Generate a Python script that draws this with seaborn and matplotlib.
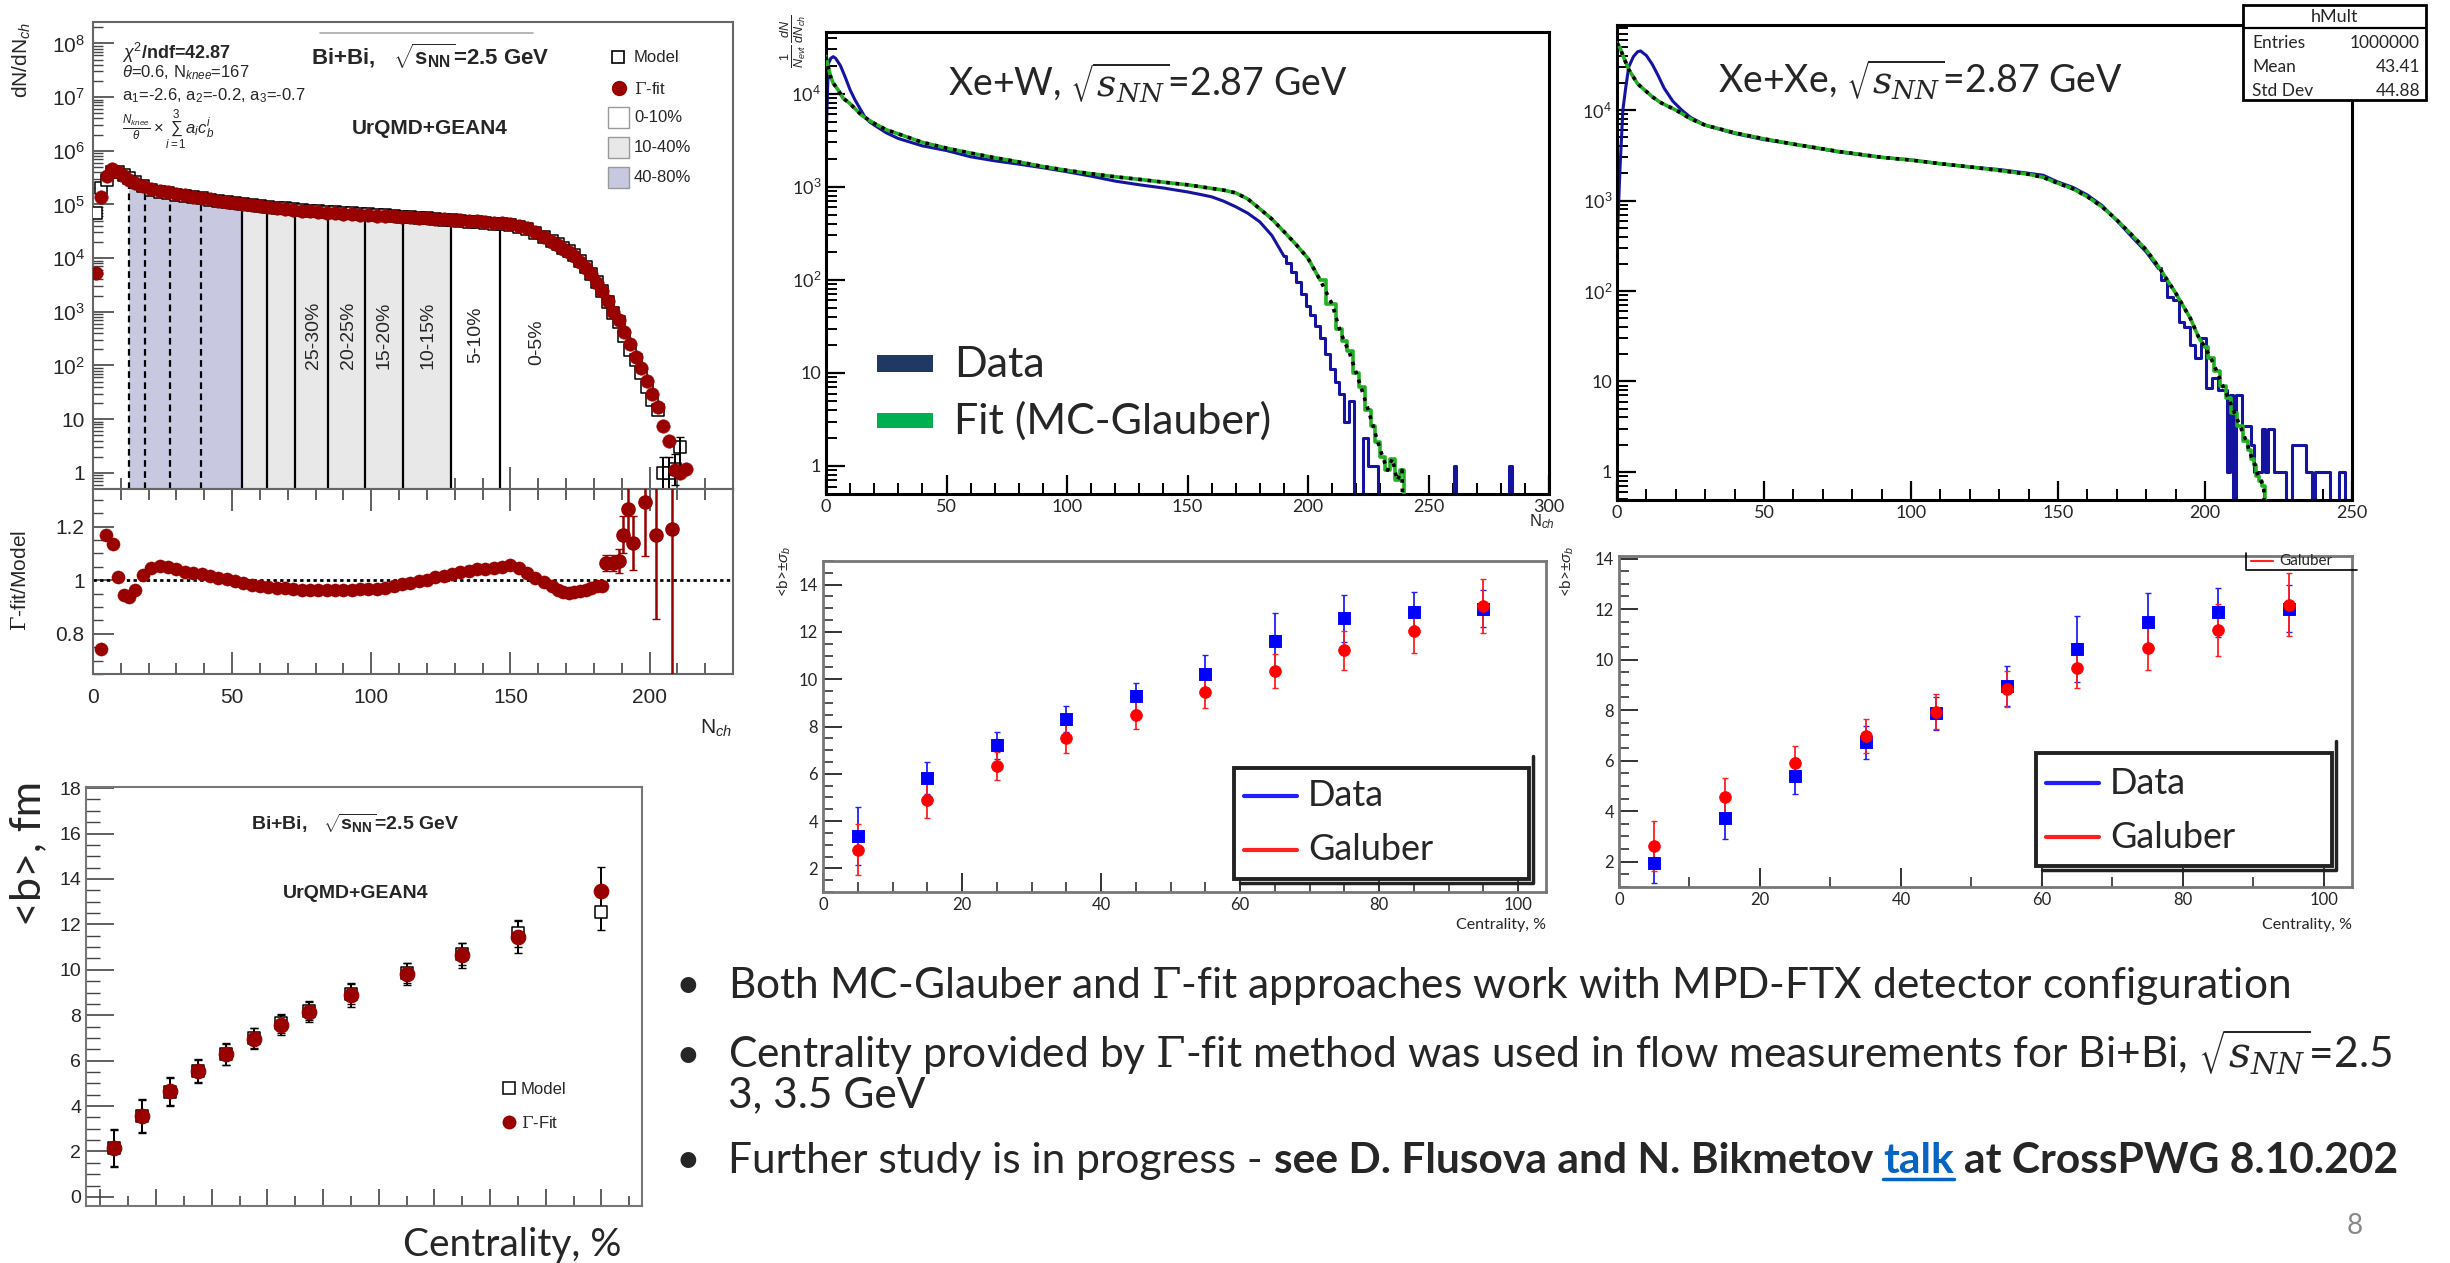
import numpy as np
import pandas as pd
import matplotlib
matplotlib.use("Agg")
import matplotlib.pyplot as plt
import seaborn as sns
from matplotlib import font_manager as fm
from matplotlib.patches import Rectangle
from matplotlib.lines import Line2D
from matplotlib.ticker import (FixedLocator, FixedFormatter, MultipleLocator,
                               NullFormatter, LogLocator)

# ====================== DATA ======================
# --- Panel A: Bi+Bi dN/dNch, Gamma-fit vs model ---
nch_fit = [1, 3, 5, 7, 9, 11, 13, 15,
           18, 21, 24, 27, 30, 33, 36, 39, 42, 45, 48, 51, 54, 57, 60, 63, 66,
           69, 72, 75, 78, 81, 84, 87, 90, 93, 96, 99, 102, 105, 108, 111, 114,
           117, 120, 123, 126, 129, 132, 135, 138, 141, 144, 147, 150, 153, 156,
           159, 162, 165,
           167, 169, 171, 173, 175, 177, 179, 181, 183, 185, 187, 189, 191, 193,
           195, 197, 199, 201, 203, 205, 207, 209, 211, 213]
dn_fit = [5.3e3, 1.36e5, 3.4e5, 4.5e5, 4.1e5, 3.4e5, 2.9e5, 2.5e5,
          2.2e5, 1.95e5, 1.8e5, 1.68e5, 1.57e5, 1.48e5, 1.4e5, 1.32e5, 1.25e5,
          1.18e5, 1.11e5, 1.05e5, 1.01e5, 9.7e4, 9.3e4, 8.9e4, 8.5e4, 8.2e4,
          7.9e4, 7.6e4, 7.4e4, 7.2e4, 7.0e4, 6.85e4, 6.7e4, 6.55e4, 6.45e4,
          6.35e4, 6.2e4, 6.1e4, 6.0e4, 5.85e4, 5.75e4, 5.6e4, 5.5e4, 5.4e4,
          5.25e4, 5.15e4, 5.05e4, 4.95e4, 4.85e4, 4.75e4, 4.6e4, 4.45e4, 4.3e4,
          4.0e4, 3.6e4, 3.0e4, 2.5e4, 2.0e4,
          1.75e4, 1.5e4, 1.3e4, 1.1e4, 8.6e3, 6.6e3, 5.0e3, 3.5e3, 2.4e3, 1.6e3,
          1.0e3, 690, 420, 250, 145, 88, 52, 30, 17, 7.5, 4.0, 1.15, 1.0, 1.2]
dn_model = [7e4, 2.0e5, 2.9e5, 3.96e5, 4.05e5, 3.6e5, 3.1e5, 2.59e5,
            2.16e5, 1.87e5, 1.71e5, 1.6e5, 1.51e5, 1.43e5, 1.36e5, 1.29e5,
            1.23e5, 1.17e5, 1.107e5, 1.05e5, 1.02e5, 9.87e4, 9.5e4, 9.13e4,
            8.74e4, 8.46e4, 8.17e4, 7.88e4, 7.68e4, 7.48e4, 7.27e4, 7.11e4,
            6.95e4, 6.79e4, 6.68e4, 6.57e4, 6.4e4, 6.28e4, 6.13e4, 5.94e4,
            5.81e4, 5.62e4, 5.49e4, 5.35e4, 5.16e4, 5.03e4, 4.9e4, 4.78e4,
            4.66e4, 4.55e4, 4.4e4, 4.24e4, 4.08e4, 3.83e4, 3.51e4, 2.98e4,
            2.51e4, 2.04e4,
            1.82e4, 1.57e4, 1.37e4, 1.15e4, 8.96e3, 6.85e3, 5.15e3, 3.58e3,
            2.46e3, 1.5e3, 940, 644, 359, 198, 127, 73, 40, 23, 14.6, 1.0, 1.0,
            1.2, 3.0, np.nan]
model_err_nch = [205, 207, 209, 211]
model_err_lo = [0.5, 0.5, 0.6, 1.8]
model_err_hi = [1.0, 1.0, 1.0, 1.6]
cut_dashed = [12.8, 18.8, 27.8, 38.7]
cut_solid = [53.4, 62.6, 72.5, 84.6, 97.6, 111.4, 128.5, 146.2]
band_4080 = [12.8, 53.4]
band_1040 = [53.4, 128.5]
class_labels = ["25-30%", "20-25%", "15-20%", "10-15%", "5-10%", "0-5%"]
class_label_nch = [79.4, 91.8, 104.4, 120.3, 137.7, 159.6]
logA_ticks = [1, 10, 1e2, 1e3, 1e4, 1e5, 1e6, 1e7, 1e8]
logA_labels = ["1", "10", "10$^{2}$", "10$^{3}$", "10$^{4}$", "10$^{5}$",
               "10$^{6}$", "10$^{7}$", "10$^{8}$"]

# ratio panel
nch_ratio = [2.9, 4.8, 7.2, 8.9, 11, 13, 15,
             18, 21, 24, 27, 30, 33, 36, 39, 42, 45, 48, 51, 54, 57, 60, 63, 66,
             69, 72, 75, 78, 81, 84, 87, 90, 93, 96, 99, 102, 105, 108, 111, 114,
             117, 120, 123, 126, 129, 132, 135, 138, 141, 144, 147, 150, 153,
             156, 159, 162, 165,
             167, 169, 171, 173, 175, 177, 179, 181, 183]
ratio = [0.743, 1.169, 1.136, 1.012, 0.944, 0.936, 0.965,
         1.02, 1.045, 1.052, 1.05, 1.04, 1.032, 1.027, 1.022, 1.015, 1.008,
         1.003, 0.998, 0.99, 0.983, 0.978, 0.975, 0.972, 0.969, 0.967, 0.965,
         0.963, 0.963, 0.963, 0.963, 0.964, 0.965, 0.966, 0.967, 0.968, 0.972,
         0.978, 0.985, 0.99, 0.997, 1.002, 1.01, 1.017, 1.023, 1.03, 1.035,
         1.04, 1.043, 1.046, 1.05, 1.055, 1.045, 1.025, 1.008, 0.995, 0.978,
         0.963, 0.955, 0.951, 0.956, 0.96, 0.963, 0.97, 0.977, 0.977]
nch_ratio_tail = [184.3, 186.9, 188.9, 190.3, 192.3, 194.2, 198.3, 202.4, 208.2]
ratio_tail = [1.064, 1.064, 1.072, 1.17, 1.265, 1.138, 1.29, 1.167, 1.19]
ratio_tail_err = [0.03, 0.03, 0.045, 0.07, 0.12, 0.1, 0.2, 0.31, 0.6]

# --- Panel B: Xe+W multiplicity ---
xew_nch_data = [0, 1, 2, 3, 4, 6, 8, 10, 12, 14, 16, 18, 20, 25, 30, 40, 50, 60,
                70, 80, 90, 100, 110, 120, 130, 140, 150, 155, 160, 165, 170,
                175, 180, 185, 190, 192, 194, 196, 198, 200, 202, 204, 206, 208,
                210, 212, 214, 216, 218, 220, 222, 224, 226, 228, 230, 260, 261,
                262, 283, 284, 285]
xew_data = [3.2e3, 2.1e4, 2.4e4, 2.5e4, 2.4e4, 2.0e4, 1.5e4, 1.1e4, 8.6e3,
            7.0e3, 5.7e3, 5.0e3, 4.6e3, 3.8e3, 3.3e3, 2.75e3, 2.45e3, 2.1e3,
            1.9e3, 1.75e3, 1.6e3, 1.45e3, 1.3e3, 1.15e3, 1.05e3, 970, 880, 830,
            780, 700, 610, 520, 420, 300, 180, 150, 120, 95, 70, 52, 42, 32, 24,
            16, 11, 8, 6, 3, 5, 0, 0, 2, 1, 1, 0, 0, 1, 0, 0, 1, 0]
xew_nch_fit = [0, 1, 2, 3, 5, 7, 10, 15, 20, 25, 30, 40, 50, 60, 70, 80, 90,
               100, 110, 120, 130, 140, 150, 160, 165, 170, 175, 180, 185, 190,
               195, 200, 205, 210, 213, 215, 217, 220, 222, 225, 227, 229, 231,
               233, 235, 237, 239, 241]
xew_fit = [2.5e4, 1.9e4, 1.5e4, 1.3e4, 1.1e4, 9e3, 7.8e3, 5.8e3, 4.8e3, 4.1e3,
           3.7e3, 3.0e3, 2.6e3, 2.3e3, 2.05e3, 1.85e3, 1.65e3, 1.5e3, 1.38e3,
           1.28e3, 1.2e3, 1.12e3, 1.05e3, 960, 920, 860, 740, 580, 450, 330,
           240, 170, 100, 55, 30, 22, 17, 10, 7, 4, 2.7, 1.8, 1.25, 0.9, 1.2,
           0.7, 0.9, 0]

# --- Panel C: Xe+Xe multiplicity ---
xexe_nch_data = [0, 1, 2, 3, 4, 5.6, 7, 8, 10, 12, 14, 16, 19, 22, 25, 30, 40,
                 50, 60, 75, 90, 100, 110, 120, 130, 140, 145, 150, 155, 160,
                 165, 170, 175, 180, 184, 186, 188, 190, 192, 194, 196, 197, 198,
                 199, 200, 201, 202, 203, 204, 205, 206, 207, 208, 209, 210, 211,
                 212, 213, 214, 215, 216, 217, 218, 219, 220, 221, 222, 223, 224,
                 225, 226, 227, 228, 229, 230, 231, 232, 233, 234, 235, 236, 237,
                 238, 239, 240, 241, 242, 243, 244, 245, 246, 247, 248]
xexe_data = [300, 2.2e3, 1e4, 1.8e4, 3e4, 3.9e4, 4.4e4, 4.5e4, 4e4, 3.2e4,
             2.4e4, 1.75e4, 1.25e4, 1e4, 8.3e3, 6.8e3, 5.5e3, 4.7e3, 4.2e3,
             3.45e3, 3.0e3, 2.8e3, 2.55e3, 2.35e3, 2.2e3, 2.0e3, 1.9e3, 1.6e3,
             1.4e3, 1.15e3, 880, 600, 400, 270, 180, 132, 85, 80, 45, 40, 25, 18,
             18, 30, 30, 8.5, 8.5, 11, 11, 8, 8, 8, 1, 7, 0, 7, 7, 3.2, 3.2, 3.2,
             2, 1, 1, 1, 3, 1, 3, 3, 1, 1, 1, 1, 0, 0, 2, 2, 2, 2, 2, 1, 1, 0, 1,
             1, 1, 1, 1, 0, 0, 0, 1, 1, 0]
xexe_nch_fit = [0, 1, 2, 4, 7, 10, 12, 15, 20, 25, 30, 40, 50, 60, 75, 90, 100,
                110, 120, 130, 140, 145, 150, 155, 160, 165, 170, 175, 180, 185,
                190, 195, 198, 200, 202, 204, 206, 208, 210, 212, 214, 215, 216,
                217, 218, 219, 220, 221]
xexe_fit = [5.5e4, 4.9e4, 4e4, 2.8e4, 1.95e4, 1.6e4, 1.4e4, 1.2e4, 1.0e4, 8e3,
            6.8e3, 5.6e3, 4.8e3, 4.2e3, 3.5e3, 3.0e3, 2.8e3, 2.55e3, 2.35e3,
            2.15e3, 1.95e3, 1.8e3, 1.55e3, 1.35e3, 1.1e3, 850, 610, 420, 285,
            170, 95, 50, 30, 24, 18, 13, 9, 6.5, 4.5, 3.2, 2.2, 1.75, 1.4, 1.2,
            0.9, 0.8, 0.7, 0]
logBC_ticks = [1, 10, 1e2, 1e3, 1e4]
logBC_labels = ["1", "10", "10$^{2}$", "10$^{3}$", "10$^{4}$"]
stats_rows = [("Entries", "1000000"), ("Mean", "43.41"), ("Std Dev", "44.88")]

# --- Panels D/E: <b> vs centrality (Data vs Glauber) ---
cent = [5, 15, 25, 35, 45, 55, 65, 75, 85, 95]
xew_b_data = [3.38, 5.81, 7.2, 8.33, 9.27, 10.24, 11.61, 12.57, 12.86, 12.99]
xew_b_data_err = [1.23, 0.67, 0.58, 0.55, 0.58, 0.79, 1.19, 1.0, 0.84, 0.78]
xew_b_glau = [2.79, 4.89, 6.33, 7.5, 8.5, 9.46, 10.33, 11.22, 12.06, 13.09]
xew_b_glau_err = [1.08, 0.76, 0.6, 0.6, 0.62, 0.68, 0.72, 0.82, 0.97, 1.14]
xexe_b_data = [1.96, 3.74, 5.41, 6.73, 7.87, 8.95, 10.41, 11.48, 11.88, 12.02]
xexe_b_data_err = [0.82, 0.86, 0.71, 0.65, 0.64, 0.79, 1.31, 1.16, 0.97, 0.92]
xexe_b_glau = [2.62, 4.57, 5.92, 6.98, 7.93, 8.83, 9.66, 10.45, 11.19, 12.18]
xexe_b_glau_err = [0.99, 0.74, 0.66, 0.66, 0.69, 0.71, 0.78, 0.87, 1.03, 1.23]

# --- Panel F: Bi+Bi <b> vs centrality ---
cent_f = [2.5, 7.5, 12.5, 17.5, 22.5, 27.5, 32.5, 37.5, 45, 55, 65, 75, 90]
bf_fit = [2.15, 3.55, 4.65, 5.55, 6.3, 6.97, 7.57, 8.15, 8.88, 9.83, 10.65,
          11.45, 13.47]
bf_fit_err = [0.85, 0.75, 0.62, 0.52, 0.47, 0.47, 0.45, 0.45, 0.5, 0.48, 0.55,
              0.7, 1.07]
bf_model = [2.15, 3.55, 4.62, 5.55, 6.28, 7.0, 7.65, 8.2, 8.95, 9.85, 10.7,
            11.6, 12.53]
bf_model_err = [0.8, 0.7, 0.6, 0.5, 0.45, 0.45, 0.42, 0.42, 0.45, 0.45, 0.5,
                0.6, 0.78]

# ====================== STYLE ======================
sns.set_theme(style="ticks")
names = {f.name for f in fm.fontManager.ttflist}
NARROW = "Liberation Sans Narrow" if "Liberation Sans Narrow" in names else "Lato"
ROOTF = "Liberation Sans" if "Liberation Sans" in names else "DejaVu Sans"
plt.rcParams["font.family"] = [ROOTF, "DejaVu Sans"]
plt.rcParams["mathtext.fontset"] = "custom"
plt.rcParams["mathtext.rm"] = ROOTF
plt.rcParams["mathtext.it"] = ROOTF + ":italic"
plt.rcParams["mathtext.bf"] = ROOTF + ":bold"
plt.rcParams["axes.unicode_minus"] = False

W, H = 2450, 1263
fig = plt.figure(figsize=(W / 100, H / 100), dpi=100)
fig.patch.set_facecolor("white")

DKRED = "#990000"
HBLUE = "#1414a0"
HGREEN = "#22b022"


def rect(x0, y0, x1, y1):
    return [x0 / W, 1 - y1 / H, (x1 - x0) / W, (y1 - y0) / H]


def T(x, y, s, **kw):
    return fig.text(x / W, 1 - y / H, s, **kw)


def frame(ax, color, lw):
    for sp in ax.spines.values():
        sp.set_visible(True)
        sp.set_color(color)
        sp.set_linewidth(lw)
    ax.set_facecolor("white")
    ax.grid(False)


def vals(v):
    return [x if x > 0 else 1e-3 for x in v]


# ====================== PANEL A ======================
axA = fig.add_axes(rect(93, 22, 733, 489))
frame(axA, "#666666", 1.5)
axA.set_yscale("log")
axA.set_xlim(0, 230)
axA.set_ylim(0.5, 2.5e8)
lnfit = np.log(dn_fit)
for band, col in [(band_4080, "#c8c8e0"), (band_1040, "#e8e8e8")]:
    xs = [band[0]] + [n for n in nch_fit if band[0] < n < band[1]] + [band[1]]
    ys = np.exp(np.interp(xs, nch_fit, lnfit))
    axA.fill_between(xs, 0.5, ys, color=col, lw=0, zorder=1)
for c in cut_dashed:
    top = np.exp(np.interp(c, nch_fit, lnfit))
    axA.plot([c, c], [0.5, top], color="black", lw=1.6, ls=(0, (3, 2)), zorder=2)
for c in cut_solid:
    top = np.exp(np.interp(c, nch_fit, lnfit))
    axA.plot([c, c], [0.5, top], color="black", lw=1.6, zorder=2)
for lab, xx in zip(class_labels, class_label_nch):
    axA.text(xx, 0.33 if "0-5" not in lab else 0.315, lab,
             transform=axA.get_xaxis_transform(), rotation=90, ha="center",
             va="center", fontsize=14)
dfA = pd.DataFrame({"nch": nch_fit, "fit": dn_fit, "model": dn_model})
sns.scatterplot(data=dfA, x="nch", y="model", ax=axA, marker="s", s=80,
                color="white", edgecolor="black", linewidth=1.1, zorder=3,
                legend=False)
idx = [nch_fit.index(n) for n in model_err_nch]
axA.errorbar(model_err_nch, [dn_model[i] for i in idx],
             yerr=[model_err_lo, model_err_hi], fmt="none", ecolor="black",
             elinewidth=1.4, capsize=3, zorder=3)
sns.scatterplot(data=dfA, x="nch", y="fit", ax=axA, s=95, color=DKRED,
                edgecolor=DKRED, linewidth=0.3, zorder=4, legend=False)
axA.set_xlabel("")
axA.set_ylabel("")
axA.xaxis.set_major_locator(MultipleLocator(50))
axA.xaxis.set_minor_locator(MultipleLocator(10))
axA.yaxis.set_major_locator(FixedLocator(logA_ticks))
axA.yaxis.set_major_formatter(FixedFormatter(logA_labels))
axA.yaxis.set_minor_locator(LogLocator(base=10, subs=np.arange(2, 10), numticks=30))
axA.yaxis.set_minor_formatter(NullFormatter())
axA.tick_params(axis="x", which="both", labelbottom=False, direction="in")
axA.tick_params(axis="x", which="major", length=16, width=1.2, color="#444")
axA.tick_params(axis="x", which="minor", length=8, width=1.2, color="#444")
axA.tick_params(axis="y", which="major", direction="in", length=15, width=1.2,
                color="#444", labelsize=15, pad=6)
axA.tick_params(axis="y", which="minor", direction="in", length=7, width=1.0,
                color="#444")
# texts of panel A
T(22, 22, "dN/dN$_{ch}$", rotation=90, ha="center", va="top", fontsize=15)
T(122, 53, r"$\chi^{2}$/ndf=42.87", fontsize=13, weight="bold", va="center")
T(122, 73, r"$\theta$=0.6, N$_{knee}$=167", fontsize=12, va="center")
T(122, 96, "a$_{1}$=-2.6, a$_{2}$=-0.2, a$_{3}$=-0.7", fontsize=12, va="center")
T(122, 130, r"$\frac{N_{knee}}{\theta}\times\sum_{i=1}^{3}a_{i}c_{b}^{i}$",
  fontsize=12, va="center")
fig.add_artist(Line2D([320 / W, 533 / W], [1 - 33 / H, 1 - 33 / H],
                      color="#aaaaaa", lw=1.2))
T(430, 56, r"Bi+Bi,   $\sqrt{\mathbf{s_{NN}}}$=2.5 GeV", fontsize=16,
  weight="bold", ha="center", va="center")
T(430, 128, "UrQMD+GEAN4", fontsize=15, weight="bold", ha="center", va="center")
# legend of panel A
fig.add_artist(Line2D([618 / W], [1 - 57 / H], marker="s", ms=9, mfc="white",
                      mec="black", mew=1.2, ls="none"))
T(634, 58, "Model", fontsize=12, va="center")
fig.add_artist(Line2D([619 / W], [1 - 88 / H], marker="o", ms=10, mfc=DKRED,
                      mec=DKRED, ls="none"))
T(634, 89, r"$\Gamma$-fit", fontsize=12, va="center",
  math_fontfamily="dejavuserif")
for (y0, col, lab) in [(107, "white", "0-10%"), (137, "#e8e8e8", "10-40%"),
                       (167, "#c8c8e0", "40-80%")]:
    fig.add_artist(Rectangle((608 / W, 1 - (y0 + 21) / H), 21 / W, 21 / H,
                             transform=fig.transFigure, facecolor=col,
                             edgecolor="#999999", lw=1.0))
    T(634, y0 + 11, lab, fontsize=12, va="center")

# ====================== PANEL A ratio ======================
axR = fig.add_axes(rect(93, 489, 733, 674))
frame(axR, "#666666", 1.5)
axR.set_xlim(0, 230)
axR.set_ylim(0.65, 1.34)
axR.axhline(1.0, color="black", lw=2.0, ls=(0, (1.2, 1.2)), zorder=1)
dfR = pd.DataFrame({"nch": nch_ratio, "r": ratio})
sns.scatterplot(data=dfR, x="nch", y="r", ax=axR, s=90, color=DKRED,
                edgecolor=DKRED, linewidth=0.3, zorder=3, legend=False)
axR.errorbar(nch_ratio_tail, ratio_tail, yerr=ratio_tail_err, fmt="o",
             color=DKRED, ms=9.5, elinewidth=1.8, capsize=3, zorder=3)
axR.set_xlabel("")
axR.set_ylabel("")
axR.xaxis.set_major_locator(MultipleLocator(50))
axR.xaxis.set_minor_locator(MultipleLocator(10))
axR.yaxis.set_major_locator(FixedLocator([0.8, 1.0, 1.2]))
axR.yaxis.set_major_formatter(FixedFormatter(["0.8", "1", "1.2"]))
axR.yaxis.set_minor_locator(MultipleLocator(0.05))
axR.tick_params(axis="x", which="major", direction="in", length=16, width=1.2,
                color="#444", labelsize=15, pad=10, top=True)
axR.tick_params(axis="x", which="minor", direction="in", length=8, width=1.2,
                color="#444", top=True)
axR.tick_params(axis="y", which="major", direction="in", length=15, width=1.2,
                color="#444", labelsize=15, pad=6)
axR.tick_params(axis="y", which="minor", direction="in", length=7, width=1.0,
                color="#444")
T(20, 581, r"$\Gamma$-fit/Model", rotation=90, ha="center", va="center",
  fontsize=15, math_fontfamily="dejavuserif")
T(716, 728, "N$_{ch}$", ha="center", va="center", fontsize=15)


# ====================== PANELS B / C ======================
def hist_panel(box, nd, vd, nf, vf, xmax, ylim, split_d, split_f):
    ax = fig.add_axes(rect(*box))
    frame(ax, "black", 2.2)
    ax.set_yscale("log")
    dd = pd.DataFrame({"n": nd, "v": vals(vd)})
    ff = pd.DataFrame({"n": nf, "v": vals(vf)})
    d1 = dd[dd.n <= split_d]
    d2 = dd[dd.n >= split_d]
    f1 = ff[ff.n <= split_f]
    f2 = ff[ff.n >= split_f]
    sns.lineplot(data=d1, x="n", y="v", ax=ax, color=HBLUE, lw=2.2,
                 errorbar=None, zorder=2)
    sns.lineplot(data=d2, x="n", y="v", ax=ax, color=HBLUE, lw=2.2,
                 errorbar=None, drawstyle="steps-mid", zorder=2)
    sns.lineplot(data=f1, x="n", y="v", ax=ax, color=HGREEN, lw=2.6,
                 errorbar=None, zorder=3)
    sns.lineplot(data=f2, x="n", y="v", ax=ax, color=HGREEN, lw=2.6,
                 errorbar=None, drawstyle="steps-mid", zorder=3)
    sns.lineplot(data=ff, x="n", y="v", ax=ax, color="black", lw=2.6,
                 ls=(0, (1, 1.6)), errorbar=None, zorder=4)
    ax.set_xlim(0, xmax)
    ax.set_ylim(*ylim)
    ax.set_xlabel("")
    ax.set_ylabel("")
    ax.xaxis.set_major_locator(MultipleLocator(50))
    ax.xaxis.set_minor_locator(MultipleLocator(10))
    ax.yaxis.set_major_locator(FixedLocator(logBC_ticks))
    ax.yaxis.set_major_formatter(FixedFormatter(logBC_labels))
    ax.yaxis.set_minor_locator(LogLocator(base=10, subs=np.arange(2, 10),
                                          numticks=30))
    ax.yaxis.set_minor_formatter(NullFormatter())
    ax.tick_params(axis="both", which="major", direction="in", length=14,
                   width=1.6, color="black", labelsize=13)
    ax.tick_params(axis="both", which="minor", direction="in", length=8,
                   width=1.4, color="black")
    for lab in ax.get_xticklabels() + ax.get_yticklabels():
        lab.set_fontfamily(NARROW)
    return ax


axB = hist_panel((826, 32, 1549, 494), xew_nch_data, xew_data, xew_nch_fit,
                 xew_fit, 300, (0.5, 4.6e4), 190, 205)
axC = hist_panel((1617, 25, 2352, 500), xexe_nch_data, xexe_data, xexe_nch_fit,
                 xexe_fit, 250, (0.49, 8.7e4), 184, 200)

T(1148, 83, r"Xe+W, $\sqrt{s_{NN}}$=2.87 GeV", fontsize=27, family=NARROW,
  ha="center", va="center", math_fontfamily="dejavuserif")
T(1920, 80, r"Xe+Xe, $\sqrt{s_{NN}}$=2.87 GeV", fontsize=27, family=NARROW,
  ha="center", va="center", math_fontfamily="dejavuserif")
T(793, 14, r"$\frac{1}{N_{evt}}\,\frac{dN}{dN_{ch}}$", rotation=90, ha="center",
  va="top", fontsize=13)
T(1542, 522, "N$_{ch}$", ha="center", va="center", fontsize=12)
# legend of panel B
fig.add_artist(Rectangle((877 / W, 1 - 372 / H), 56 / W, 17 / H,
                         transform=fig.transFigure, facecolor="#203864", lw=0))
fig.add_artist(Rectangle((877 / W, 1 - 428 / H), 56 / W, 15 / H,
                         transform=fig.transFigure, facecolor="#00b050", lw=0))
T(954, 365, "Data", fontsize=31, family=NARROW, va="center")
T(954, 421, "Fit (MC-Glauber)", fontsize=31, family=NARROW, va="center")
# stats box of panel C
fig.add_artist(Rectangle((2243 / W, 1 - 100 / H), 183 / W, 95 / H,
                         transform=fig.transFigure, facecolor="white",
                         edgecolor="black", lw=2.0, zorder=10))
fig.add_artist(Line2D([2243 / W, 2426 / W], [1 - 28 / H, 1 - 28 / H],
                      color="black", lw=1.6, zorder=11))
T(2335, 17, "hMult", fontsize=13, family=NARROW, ha="center", va="center",
  zorder=12)
for k, (nm, vv) in enumerate(stats_rows):
    T(2252, 43 + 24 * k, nm, fontsize=12.5, family=NARROW, va="center", zorder=12)
    T(2420, 43 + 24 * k, vv, fontsize=12.5, family=NARROW, va="center",
      ha="right", zorder=12)


# ====================== PANELS D / E ======================
def b_panel(box, bd, bde, bg, bge, ylim, minor_x):
    ax = fig.add_axes(rect(*box))
    frame(ax, "#777777", 2.0)
    ax.errorbar(cent, bd, yerr=bde, fmt="none", ecolor="#2020ff",
                elinewidth=1.3, capsize=2.5, zorder=2)
    ax.errorbar(cent, bg, yerr=bge, fmt="none", ecolor="#ff2020",
                elinewidth=1.3, capsize=2.5, zorder=3)
    sns.scatterplot(x=cent, y=bd, ax=ax, marker="s", s=70, color="#0000ff",
                    edgecolor="#0000ff", zorder=4, legend=False)
    sns.scatterplot(x=cent, y=bg, ax=ax, marker="o", s=70, color="#ff0000",
                    edgecolor="#ff0000", zorder=5, legend=False)
    ax.set_xlim(0, 104)
    ax.set_ylim(*ylim)
    ax.xaxis.set_major_locator(MultipleLocator(20))
    ax.xaxis.set_minor_locator(MultipleLocator(minor_x))
    ax.yaxis.set_major_locator(MultipleLocator(2))
    ax.yaxis.set_minor_locator(MultipleLocator(0.5))
    ax.tick_params(axis="both", which="major", direction="in", length=14,
                   width=1.4, color="#333", labelsize=12)
    ax.tick_params(axis="both", which="minor", direction="in", length=7,
                   width=1.2, color="#333")
    ax.set_yticks([2, 4, 6, 8, 10, 12, 14])
    for lab in ax.get_xticklabels() + ax.get_yticklabels():
        lab.set_fontfamily(NARROW)
    ax.set_xlabel("")
    ax.set_ylabel("")
    return ax


axD = b_panel((823, 561, 1546, 892), xew_b_data, xew_b_data_err, xew_b_glau,
              xew_b_glau_err, (1.0, 15.0), 5)
axE = b_panel((1619, 556, 2352, 887), xexe_b_data, xexe_b_data_err, xexe_b_glau,
              xexe_b_glau_err, (1.0, 14.1), 10)
for xl in (1546, 2352):
    T(xl, 925, "Centrality, %", fontsize=11.5, family=NARROW, ha="right",
      va="center")
for xl in (784, 1567):
    T(xl, 546, r"<b>$\pm\sigma_{b}$", rotation=90, ha="center", va="top",
      fontsize=11, family=NARROW)


def big_legend(x0, y0, x1, y1, ydata, yglau):
    # shadow
    fig.add_artist(Line2D([(x0 + 6) / W, (x1 + 4) / W, (x1 + 4) / W],
                          [1 - (y1 + 4) / H, 1 - (y1 + 4) / H, 1 - (y0 - 12) / H],
                          color="#222222", lw=2.5, zorder=5))
    fig.add_artist(Rectangle((x0 / W, 1 - y1 / H), (x1 - x0) / W, (y1 - y0) / H,
                             transform=fig.transFigure, facecolor="white",
                             edgecolor="#222222", lw=2.8, zorder=6))
    for yy, col, lab in [(ydata, "#2020ff", "Data"), (yglau, "#ff2020", "Galuber")]:
        fig.add_artist(Line2D([(x0 + 10) / W, (x0 + 63) / W],
                              [1 - yy / H, 1 - yy / H], color=col, lw=3,
                              zorder=7))
        T(x0 + 74, yy, lab, fontsize=26, family=NARROW, va="center", zorder=8)


big_legend(1234, 768, 1529, 879, 796, 850)
big_legend(2036, 753, 2332, 866, 783, 837)
fig.add_artist(Line2D([2246 / W, 2246 / W, 2357 / W],
                      [1 - 553 / H, 1 - 570 / H, 1 - 570 / H], color="black",
                      lw=1.2))
fig.add_artist(Line2D([2251 / W, 2273 / W], [1 - 561 / H, 1 - 561 / H],
                      color="#ff2020", lw=1.5))
T(2279, 561, "Galuber", fontsize=11, family=NARROW, va="center")

# ====================== PANEL F ======================
axF = fig.add_axes(rect(86, 787, 642, 1206))
frame(axF, "#777777", 1.5)
axF.errorbar(cent_f, bf_model, yerr=bf_model_err, fmt="none", ecolor="black",
             elinewidth=1.4, capsize=3, zorder=2)
axF.errorbar(cent_f, bf_fit, yerr=bf_fit_err, fmt="none", ecolor="black",
             elinewidth=1.4, capsize=3, zorder=2)
sns.scatterplot(x=cent_f, y=bf_model, ax=axF, marker="s", s=85, color="white",
                edgecolor="black", linewidth=1.1, zorder=3, legend=False)
sns.scatterplot(x=cent_f, y=bf_fit, ax=axF, s=110, color=DKRED,
                edgecolor=DKRED, zorder=4, legend=False)
axF.set_xlim(-2.6, 97.3)
axF.set_ylim(-0.4, 18.05)
axF.xaxis.set_major_locator(MultipleLocator(10))
axF.xaxis.set_minor_locator(MultipleLocator(5))
axF.yaxis.set_major_locator(MultipleLocator(2))
axF.yaxis.set_minor_locator(MultipleLocator(0.5))
axF.tick_params(axis="x", which="both", labelbottom=False, direction="in")
axF.tick_params(axis="x", which="major", length=12, width=1.2, color="#444")
axF.tick_params(axis="x", which="minor", length=7, width=1.2, color="#444")
axF.tick_params(axis="y", which="major", direction="in", length=20, width=1.2,
                color="#444", labelsize=14)
axF.tick_params(axis="y", which="minor", direction="in", length=10, width=1.0,
                color="#444")
axF.set_xlabel("")
axF.set_ylabel("")
T(28, 853, "<b>, fm", rotation=90, ha="center", va="center", fontsize=31,
  family=NARROW)
T(512, 1245, "Centrality, %", ha="center", va="center", fontsize=28,
  family=NARROW)
T(355, 823, r"Bi+Bi,   $\sqrt{\mathbf{s_{NN}}}$=2.5 GeV", fontsize=14,
  weight="bold", ha="center", va="center")
T(356, 893, "UrQMD+GEAN4", fontsize=14, weight="bold", ha="center", va="center")
fig.add_artist(Line2D([509 / W], [1 - 1088 / H], marker="s", ms=8, mfc="white",
                      mec="black", mew=1.1, ls="none"))
T(521, 1089, "Model", fontsize=12, va="center")
fig.add_artist(Line2D([509 / W], [1 - 1122 / H], marker="o", ms=9, mfc=DKRED,
                      mec=DKRED, ls="none"))
T(521, 1123, r"$\Gamma$-Fit", fontsize=12, va="center",
  math_fontfamily="dejavuserif")

# ====================== BULLET TEXT ======================
fig.canvas.draw()
rend = fig.canvas.get_renderer()
BS = 30.6


def width_of(s, **kw):
    t = fig.text(0, 0, s, fontsize=BS, family=NARROW, **kw)
    w = t.get_window_extent(renderer=rend).width
    t.remove()
    return w


def seg_line(x, y, parts):
    for s, kw in parts:
        sw = width_of("a a", **kw) - width_of("aa", **kw)
        if s.startswith(" "):
            x += sw
        s2 = s.strip()
        t = T(x, y, s2, fontsize=BS, family=NARROW, va="baseline", ha="left",
              math_fontfamily="dejavuserif", **kw)
        bb = t.get_window_extent(renderer=rend)
        if kw.get("color") == "#0563c1":
            fig.add_artist(Line2D([bb.x0 / W, bb.x1 / W],
                                  [1 - (y + 6) / H, 1 - (y + 6) / H],
                                  color="#0563c1", lw=2.5))
        x += bb.width
        if s.endswith(" "):
            x += sw


for yb in (998, 1068, 1173):
    T(688, yb, "\u2022", fontsize=BS, family=NARROW, va="baseline", ha="center")
seg_line(728, 998, [(r"Both MC-Glauber and $\mathit{\Gamma}$-fit approaches work "
                     r"with MPD-FTX detector configuration", {})])
seg_line(728, 1068, [(r"Centrality provided by $\mathit{\Gamma}$-fit method was "
                      r"used in flow measurements for Bi+Bi, "
                      r"$\sqrt{s_{NN}}$=2.5", {})])
seg_line(728, 1107, [("3, 3.5 GeV", {})])
seg_line(728, 1173, [("Further study is in progress - ", {}),
                     ("see D. Flusova and N. Bikmetov ", {"weight": "bold"}),
                     ("talk", {"weight": "bold", "color": "#0563c1"}),
                     (" at CrossPWG 8.10.202", {"weight": "bold"})])
T(2355, 1226, "8", fontsize=20, family=NARROW, color="#888888", ha="center",
  va="center")

fig.savefig("out.png", dpi=100, facecolor="white")
